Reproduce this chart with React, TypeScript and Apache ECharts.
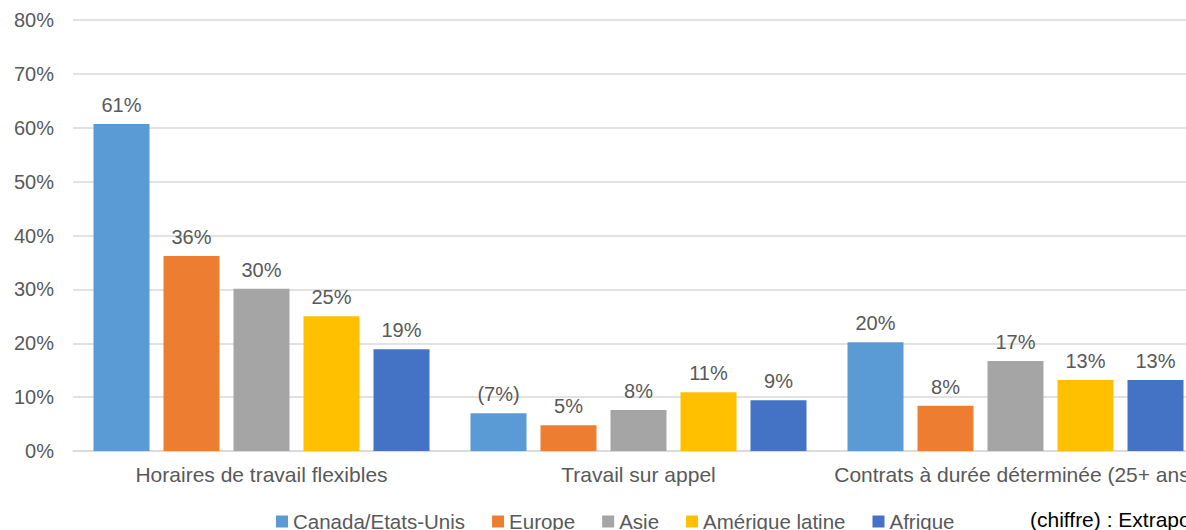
import React, { useEffect, useRef } from "react";
import * as echarts from "echarts";

const categories = [
  "Horaires de travail flexibles",
  "Travail sur appel",
  "Contrats à durée déterminée (25+ ans)",
];
const seriesNames = ["Canada/Etats-Unis", "Europe", "Asie", "Amérique latine", "Afrique"];
const canada = [60.7, 7.0, 20.2];
const europe = [36.2, 4.8, 8.4];
const asie = [30.1, 7.6, 16.7];
const ameriqueLatine = [25.0, 10.9, 13.2];
const afrique = [18.9, 9.4, 13.2];
// extrapolated values are shown in parentheses
const canadaExtrapolated = [false, true, false];
const yTicks = { min: 0, max: 80, interval: 10 };
const noteText = "(chiffre) : Extrapolation";

const colors = ["#5B9BD5", "#ED7D31", "#A5A5A5", "#FFC000", "#4472C4"];
const textColor = "#595959";
const FONT = "'Liberation Sans', Arial, sans-serif";

export default function App() {
  const ref = useRef<HTMLDivElement>(null);
  useEffect(() => {
    if (!ref.current) return;
    const chart = echarts.init(ref.current, null, { renderer: "svg" });
    const allData = [canada, europe, asie, ameriqueLatine, afrique];
    chart.setOption({
      animation: false,
      color: colors,
      textStyle: { fontFamily: FONT },
      grid: { left: 73, top: 20, right: 56, bottom: 79, containLabel: false },
      legend: {
        left: 271,
        top: 506,
        itemWidth: 12,
        itemHeight: 12,
        itemGap: 27,
        icon: "rect",
        textStyle: { color: textColor, fontSize: 20.5, fontFamily: FONT },
        data: seriesNames,
      },
      graphic: [
        {
          type: "text",
          left: 1030,
          top: 509,
          style: { text: noteText, fill: "#000000", font: `21px ${FONT}` },
        },
      ],
      xAxis: {
        type: "category",
        data: categories,
        axisLine: { lineStyle: { color: "#D9D9D9", width: 1.5 } },
        axisTick: { show: false },
        axisLabel: { color: textColor, fontSize: 21, margin: 13, fontFamily: FONT, interval: 0 },
      },
      yAxis: {
        type: "value",
        min: yTicks.min,
        max: yTicks.max,
        interval: yTicks.interval,
        axisLabel: { formatter: "{value}%", color: textColor, fontSize: 20, margin: 19, fontFamily: FONT },
        splitLine: { lineStyle: { color: "#D9D9D9", width: 1.5 } },
        axisLine: { show: false },
        axisTick: { show: false },
      },
      series: seriesNames.map((name, si) => ({
        name,
        type: "bar",
        barWidth: 56,
        barGap: "25%",
        data: allData[si].map((v, ci) => ({
          value: v,
          label: {
            formatter:
              si === 0 && canadaExtrapolated[ci]
                ? `(${Math.round(v)}%)`
                : `${Math.round(v)}%`,
          },
        })),
        label: {
          show: true,
          position: "top",
          distance: 9,
          color: textColor,
          fontSize: 20,
          fontFamily: FONT,
        },
      })),
    });
    return () => chart.dispose();
  }, []);
  return (
    <div
      style={{
        position: "absolute",
        left: 0,
        top: 0,
        width: 1186,
        height: 530,
        overflow: "hidden",
        background: "#fff",
      }}
    >
      <div ref={ref} style={{ width: 1260, height: 530 }} />
    </div>
  );
}
